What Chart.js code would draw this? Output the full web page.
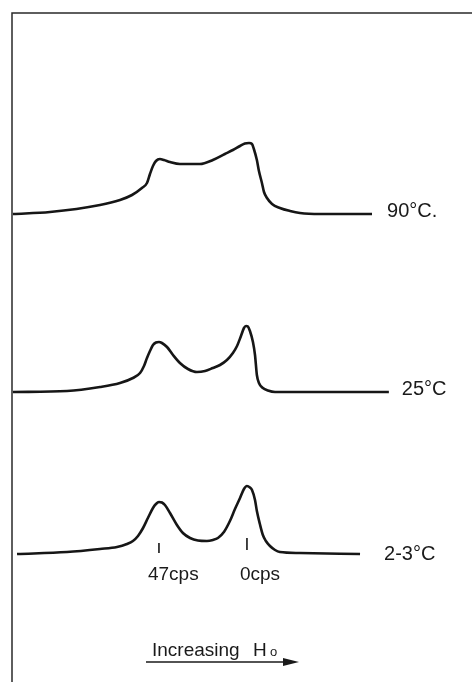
<!DOCTYPE html>
<html>
<head>
<meta charset="utf-8">
<script src="https://cdn.jsdelivr.net/npm/chart.js@4"></script>
<style>
  body { margin: 0; background: #fff; }
  #wrap { width: 472px; height: 682px; }
</style>
</head>
<body>
<div id="wrap"><canvas id="nmr" width="472" height="682"></canvas></div>
<script>
// x = shift in cps from the 0 cps line, y = signal height above each trace's baseline
const temps = ['90°C.', '25°C', '2-3°C'];
const baselines = [468, 290, 128];

const x90 = [125.0, 105.2, 78.5, 67.8, 61.4, 56.1, 53.4, 51.8, 50.2, 48.6, 46.5, 44.3, 41.1, 35.8, 30.4, 25.1, 18.2, 11.8, 7.5, 3.7, 1.1, -1.1, -2.7, -3.7, -5.3, -6.4, -8.0, -9.1, -10.7, -13.4, -17.6, -23.0, -28.3, -39.0, -66.8];
const y90 = [0, 2, 9, 14, 19, 26, 31, 40, 48, 53, 55, 54, 52, 50, 50, 50, 54, 60, 64, 68, 70.5, 71, 70, 65, 54, 43, 31, 22, 16, 10, 6, 3, 1, 0, 0];

const x25 = [125.0, 96.1, 78.5, 67.8, 60.9, 57.1, 55.0, 53.4, 51.8, 50.2, 48.6, 47.0, 45.4, 42.7, 39.5, 35.8, 31.5, 26.7, 22.4, 18.2, 14.4, 10.7, 7.5, 5.3, 3.2, 1.6, 0.5, -0.5, -1.6, -3.2, -4.3, -5.3, -6.4, -8.5, -11.2, -15.0, -28.3, -75.8];
const y25 = [0, 1, 5, 9, 14, 19, 26, 34, 41, 47, 49.5, 50, 49, 45, 37, 29, 23, 20, 21, 24, 27, 32, 39, 46, 56, 64, 66, 65.5, 61, 50, 37, 17, 9, 4, 1.5, 0, 0, 0];

const x3 = [122.8, 96.1, 78.5, 69.4, 64.1, 60.9, 58.2, 55.5, 52.9, 50.2, 48.6, 47.0, 45.4, 43.8, 41.1, 37.4, 34.2, 30.4, 26.2, 21.4, 18.2, 15.5, 12.3, 9.1, 6.4, 3.7, 1.6, 0, -1.6, -2.7, -4.3, -5.3, -6.9, -8.5, -10.1, -12.3, -15.0, -17.6, -28.3, -60.4];
const y3 = [0, 2, 5, 7, 10, 13, 18, 26, 36, 46, 50, 52, 51.5, 49, 41, 29, 21, 16, 13.5, 13, 14, 16, 22, 33, 45, 56, 65, 68, 66.5, 64, 54, 43, 30, 19, 13, 8, 4, 2, 1, 0];

// reference marks under the low temperature trace
const markCps = [47, 0];
const markLabels = ['47cps', '0cps'];
const markLow = [1, 4];
const markHigh = [11, 16];

const xMin = -120.2, xMax = 131.9;

const traces = [[x90, y90], [x25, y25], [x3, y3]];
const labelGap = [15, 13, 24];
const labelDy = [-3, -3, 0];

const datasets = traces.map(function(t, i) {
    return {
        data: t[0].map((v, k) => ({x: v, y: baselines[i] + t[1][k]})),
        borderColor: '#161616',
        borderWidth: 2.6,
        pointRadius: 0,
        cubicInterpolationMode: 'monotone',
        fill: false
    };
});

markCps.forEach(function(c, i) {
    datasets.push({
        data: [{x: c, y: baselines[2] + markLow[i]}, {x: c, y: baselines[2] + markHigh[i]}],
        borderColor: '#161616',
        borderWidth: 1.6,
        pointRadius: 0
    });
});

const annotations = {
    id: 'annotations',
    afterDatasetsDraw(chart) {
        const ctx = chart.ctx;
        const xs = chart.scales.x, ys = chart.scales.y;
        ctx.save();

        // frame
        ctx.strokeStyle = '#2a2a2a';
        ctx.lineWidth = 1.5;
        ctx.beginPath();
        ctx.moveTo(12, 682);
        ctx.lineTo(12, 13);
        ctx.lineTo(472, 13);
        ctx.stroke();

        // temperature labels
        ctx.fillStyle = '#1a1a1a';
        ctx.font = '20px "Liberation Sans"';
        ctx.textBaseline = 'middle';
        ctx.textAlign = 'left';
        traces.forEach(function(t, i) {
            const lastX = t[0][t[0].length - 1];
            ctx.fillText(temps[i], xs.getPixelForValue(lastX) + labelGap[i], ys.getPixelForValue(baselines[i]) + labelDy[i]);
        });

        // cps labels
        ctx.font = '19px "Liberation Sans"';
        const markShift = [-11, -7];
        markCps.forEach(function(c, i) {
            ctx.fillText(markLabels[i], xs.getPixelForValue(c) + markShift[i], ys.getPixelForValue(baselines[2]) + 21);
        });

        // field arrow
        ctx.textBaseline = 'alphabetic';
        ctx.fillText('Increasing', 152, 656);
        ctx.fillText('H', 253, 656);
        ctx.font = '13px "Liberation Sans"';
        ctx.fillText('o', 270, 656);
        ctx.strokeStyle = '#1a1a1a';
        ctx.lineWidth = 1.6;
        ctx.beginPath();
        ctx.moveTo(146, 662);
        ctx.lineTo(288, 662);
        ctx.stroke();
        ctx.beginPath();
        ctx.moveTo(299, 662);
        ctx.lineTo(283, 658);
        ctx.lineTo(283, 666);
        ctx.closePath();
        ctx.fill();

        ctx.restore();
    }
};

new Chart(document.getElementById('nmr'), {
    type: 'line',
    data: { datasets: datasets },
    options: {
        responsive: false,
        animation: false,
        devicePixelRatio: 1,
        layout: { padding: 0 },
        plugins: { legend: { display: false }, tooltip: { enabled: false } },
        scales: {
            x: { type: 'linear', reverse: true, min: xMin, max: xMax, display: false },
            y: { min: 0, max: 682, display: false }
        }
    },
    plugins: [annotations]
});
</script>
</body>
</html>
